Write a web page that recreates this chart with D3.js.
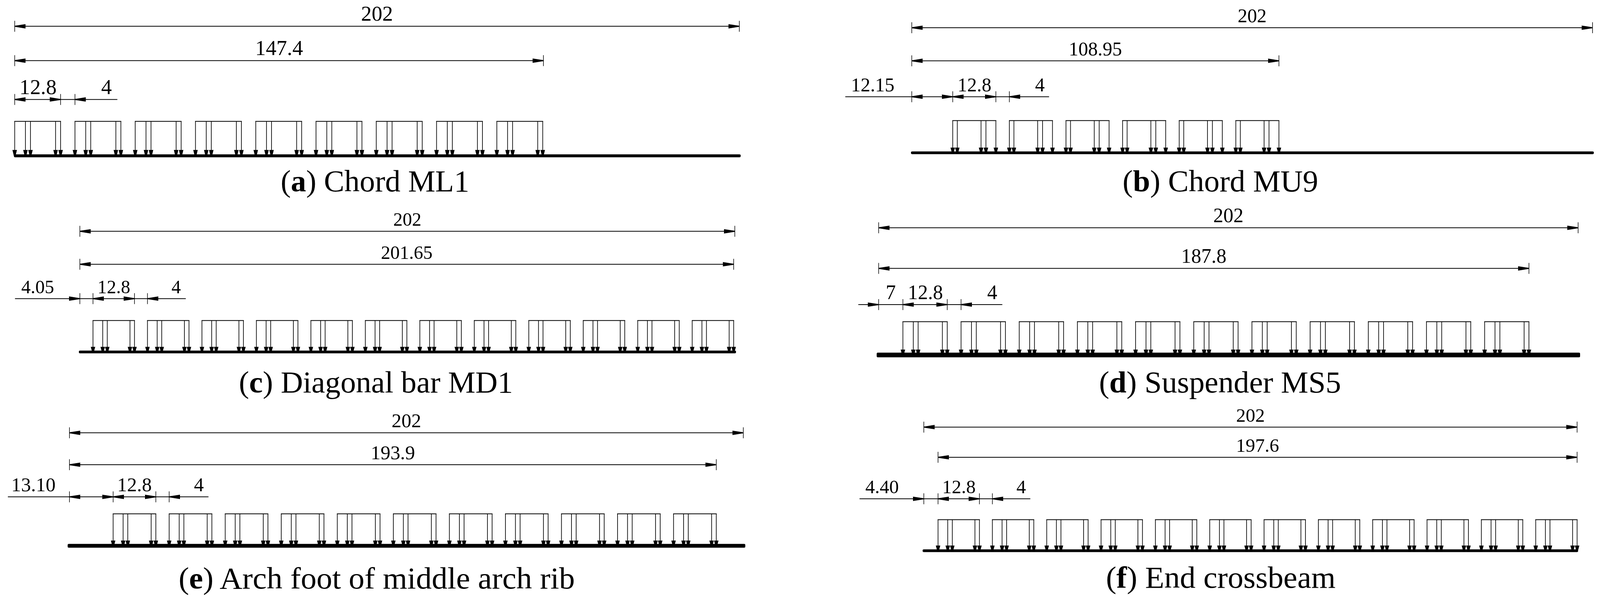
<!DOCTYPE html>
<html>
<head>
<meta charset="utf-8">
<script src="https://cdn.jsdelivr.net/npm/d3@7"></script>
<style>
html, body { margin: 0; padding: 0; background: #fff; overflow: hidden; width: 100%; height: 100%; }
text { font-family: "Liberation Serif", serif; fill: #000; }
</style>
</head>
<body>
<div id="chart"></div>
<script>
var panelLetters = ['a', 'b', 'c', 'd', 'e', 'f'];
var panelNames = ['Chord ML1', 'Chord MU9', 'Diagonal bar MD1', 'Suspender MS5', 'Arch foot of middle arch rib', 'End crossbeam'];
var totalSpans = [202, 202, 202, 202, 202, 202];
var loadedFrom = [0, 0, 0, 0, 0, 4.4];
var loadedTo = [147.4, 108.95, 201.65, 187.8, 193.9, 202];
var loadedLabels = ['147.4', '108.95', '201.65', '187.8', '193.9', '197.6'];
var offsets = [0, 12.15, 4.05, 7, 13.1, 4.4];
var offsetLabels = ['', '12.15', '4.05', '7', '13.10', '4.40'];
var vehicleLength = 12.8;
var vehicleGap = 4;

var axlesForward = [0, 3, 4.4, 11.4, 12.8];
var axlesReversed = [0, 1.35, 8.4, 9.85, 12.8];

var vehicleStarts = [
    [0, 16.8, 33.6, 50.4, 67.2, 84, 100.8, 117.6, 134.4],
    [12.15, 28.95, 45.75, 62.55, 79.35, 96.15],
    [4.05, 20.85, 37.65, 54.45, 71.25, 88.05, 104.85, 121.65, 138.45, 155.25, 172.05, 188.85],
    [7, 23.8, 40.6, 57.4, 74.2, 91, 107.8, 124.6, 141.4, 158.2, 175],
    [13.1, 29.9, 46.7, 63.5, 80.3, 97.1, 113.9, 130.7, 147.5, 164.3, 181.1],
    [4.4, 21.2, 38, 54.8, 71.6, 88.4, 105.2, 122, 138.8, 155.6, 172.4, 189.2]
];

// pixel layout, one entry per panel
var layouts = [
    {x0: 38, x1: 1912.5, topY: 67.3, loadedY: 155.3, chainY: 254.7, boxY: 310.7, beamY: 399, beamH: 7.3, beamL: 36, beamR: 1916, headY: 384, font: 55,
     capX: 726, capW: 488, capY: 490, tailL: null, tailR: 303.6, arrows: 'none', lblOffset: 0, lbl128: 6.5, lbl4: 25.6},
    {x0: 2358.7, x1: 4119.6, topY: 71, loadedY: 155.7, chainY: 247.7, boxY: 308.7, beamY: 391.3, beamH: 7, beamL: 2356.6, beamR: 4123, headY: 378, font: 50,
     capX: 2904, capW: 506, capY: 490, tailL: 2186.7, tailR: 2713.8, arrows: 'inside', lblOffset: -11.6, lbl128: 18.6, lbl4: 38},
    {x0: 206.6, x1: 1900.9, topY: 592.3, loadedY: 676.7, chainY: 764.7, boxY: 820.7, beamY: 901.3, beamH: 7, beamL: 204, beamR: 1904, headY: 888.3, font: 48.5,
     capX: 618, capW: 709, capY: 1005, tailL: 38.8, tailR: 480.6, arrows: 'outside', lblOffset: -13, lbl128: 10.5, lbl4: 29.7},
    {x0: 2273, x1: 4082.4, topY: 583.3, loadedY: 687.3, chainY: 780, boxY: 823.7, beamY: 909, beamH: 12, beamL: 2267.9, beamR: 4087.5, headY: 895.3, font: 52,
     capX: 2843, capW: 626, capY: 1005, tailL: 2220.4, tailR: 2592.9, arrows: 'outside', lblOffset: 3.5, lbl128: 13.5, lbl4: 32.8},
    {x0: 179.6, x1: 1922.8, topY: 1108.3, loadedY: 1190, chainY: 1272.3, boxY: 1315.7, beamY: 1397.7, beamH: 9.7, beamL: 175, beamR: 1928, headY: 1384.3, font: 51,
     capX: 462, capW: 1025, capY: 1507, tailL: 20.4, tailR: 539.3, arrows: 'inside', lblOffset: -10.8, lbl128: 19.5, lbl4: 38.8},
    {x0: 2389.8, x1: 4079.8, topY: 1093.7, loadedY: 1171, chainY: 1277.3, boxY: 1330.7, beamY: 1410.3, beamH: 7, beamL: 2386.7, beamR: 4082.4, headY: 1397, font: 49.5,
     capX: 2861, capW: 594, capY: 1505, tailL: 2223.5, tailR: 2665.3, arrows: 'outside', lblOffset: -12.9, lbl128: 10.85, lbl4: 30.1}
];

// the viewBox keeps the whole drawing in the window even if the window comes out narrower
var svg = d3.select('#chart').append('svg')
    .attr('viewBox', '0 0 4139 1539')
    .attr('preserveAspectRatio', 'none')
    .style('width', '100vw')
    .style('height', '100vh')
    .style('display', 'block');

svg.append('rect').attr('width', 4139).attr('height', 1539).attr('fill', '#fff');

// arrow lying on a dimension line, tip at px x, dir -1 points left, +1 points right
function dimArrow(g, x, y, dir) {
    var len = 28, half = 5.6, tip = 1.2;
    var p = d3.path();
    p.moveTo(x, y - tip);
    p.lineTo(x - dir * len, y - half);
    p.lineTo(x - dir * len, y + half);
    p.lineTo(x, y + tip);
    p.closePath();
    g.append('path').attr('d', p.toString()).attr('fill', '#000');
}

function dimTick(g, x, y) {
    g.append('line')
        .attr('x1', x).attr('x2', x)
        .attr('y1', y - 14).attr('y2', y + 14)
        .attr('stroke', '#000').attr('stroke-width', 1.5);
}

function dimText(g, label, x, y, font) {
    g.append('text')
        .attr('x', x).attr('y', y - 14)
        .attr('text-anchor', 'middle')
        .attr('font-size', font)
        .text(label);
}

// full width dimension between two ticks, arrows inside
function spanDim(g, x, from, to, y, label, font) {
    g.append('line')
        .attr('x1', x(from)).attr('x2', x(to))
        .attr('y1', y).attr('y2', y)
        .attr('stroke', '#000').attr('stroke-width', 1.9);
    dimTick(g, x(from), y);
    dimTick(g, x(to), y);
    dimArrow(g, x(from), y, -1);
    dimArrow(g, x(to), y, 1);
    dimText(g, label, x((from + to) / 2), y, font);
}

function drawChain(g, x, i, lay) {
    var y = lay.chainY;
    var off = offsets[i];
    var vehEnd = off + vehicleLength;
    var nextStart = vehEnd + vehicleGap;

    g.append('line')
        .attr('x1', lay.tailL === null ? x(0) : lay.tailL).attr('x2', lay.tailR)
        .attr('y1', y).attr('y2', y)
        .attr('stroke', '#000').attr('stroke-width', 1.9);

    dimTick(g, x(0), y);
    if (off > 0) dimTick(g, x(off), y);
    dimTick(g, x(vehEnd), y);
    dimTick(g, x(nextStart), y);

    if (lay.arrows === 'inside') {
        dimArrow(g, x(0), y, -1);
        dimArrow(g, x(off), y, 1);
    } else if (lay.arrows === 'outside') {
        dimArrow(g, x(0), y, 1);
    }
    dimArrow(g, x(off), y, -1);
    dimArrow(g, x(vehEnd), y, 1);
    dimArrow(g, x(nextStart), y, -1);

    if (offsetLabels[i]) dimText(g, offsetLabels[i], x(lay.lblOffset), y, lay.font);
    dimText(g, String(vehicleLength), x(lay.lbl128), y, lay.font);
    dimText(g, String(vehicleGap), x(lay.lbl4), y, lay.font);
}

function drawVehicles(g, x, i, lay) {
    var axles = i === 1 ? axlesReversed : axlesForward;
    var vehicles = g.selectAll('g.vehicle')
        .data(vehicleStarts[i])
        .join('g')
        .attr('class', 'vehicle');

    vehicles.append('line')
        .attr('x1', function(d) { return x(d); })
        .attr('x2', function(d) { return x(d + vehicleLength); })
        .attr('y1', lay.boxY).attr('y2', lay.boxY)
        .attr('stroke', '#000').attr('stroke-width', 2)
        .attr('stroke-linecap', 'square');

    vehicles.each(function(start) {
        var v = d3.select(this);
        axles.forEach(function(a) {
            var ax = x(start + a);
            v.append('line')
                .attr('x1', ax).attr('x2', ax)
                .attr('y1', lay.boxY).attr('y2', lay.headY + 2)
                .attr('stroke', '#000').attr('stroke-width', 1.7);
            // head is cut off blunt where it meets the beam
            var p = d3.path();
            p.moveTo(ax - 5.8, lay.headY);
            p.lineTo(ax + 5.8, lay.headY);
            p.lineTo(ax + 2.2, lay.beamY);
            p.lineTo(ax - 2.2, lay.beamY);
            p.closePath();
            v.append('path').attr('d', p.toString()).attr('fill', '#000');
        });
    });
}

panelLetters.forEach(function(letter, i) {
    var lay = layouts[i];
    var g = svg.append('g').attr('class', 'panel-' + letter);
    var x = d3.scaleLinear().domain([0, totalSpans[i]]).range([lay.x0, lay.x1]);

    spanDim(g, x, 0, totalSpans[i], lay.topY, String(totalSpans[i]), lay.font);
    spanDim(g, x, loadedFrom[i], loadedTo[i], lay.loadedY, loadedLabels[i], lay.font);
    drawChain(g, x, i, lay);
    drawVehicles(g, x, i, lay);

    g.append('rect')
        .attr('x', lay.beamL)
        .attr('y', lay.beamY - lay.beamH / 2)
        .attr('width', lay.beamR - lay.beamL)
        .attr('height', lay.beamH)
        .attr('rx', 3)
        .attr('fill', '#000');

    var cap = g.append('text')
        .attr('x', lay.capX)
        .attr('y', lay.capY)
        .attr('font-size', 78)
        .attr('textLength', lay.capW)
        .attr('lengthAdjust', 'spacingAndGlyphs');
    cap.append('tspan').text('(');
    cap.append('tspan').attr('font-weight', 'bold').text(letter);
    cap.append('tspan').text(') ' + panelNames[i]);
});
</script>
</body>
</html>
